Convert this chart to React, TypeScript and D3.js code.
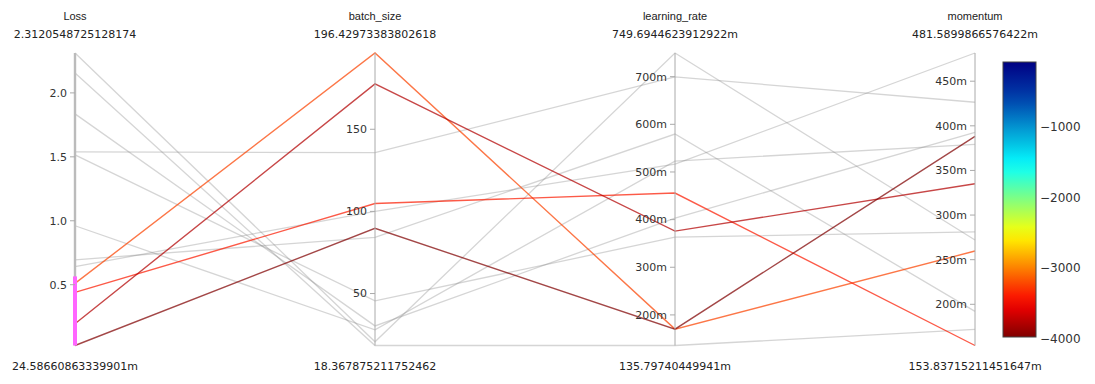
import React from 'react';
import * as d3 from 'd3';

// ---- data ----
const dimensionNames = ['Loss', 'batch_size', 'learning_rate', 'momentum'];
const loss = [2.3120548725128174, 2.156, 1.836, 1.539, 1.516, 0.961, 0.695, 0.641, 0.51, 0.44, 0.195, 0.02458660863339901];
const batchSize = [20.6, 18.367875211752462, 30.3, 135.8, 45.5, 27.9, 84.2, 100.0, 196.42973383802618, 104.8, 177.6, 89.7];
const learningRate = [0.7496944623912922, 0.13579740449941, 0.4032, 0.6994, 0.3632, 0.5229, 0.5796, 0.5166, 0.1702, 0.4557, 0.3758, 0.1702];
const momentum = [0.2721, 0.1718, 0.3926, 0.4264, 0.2811, 0.3791, 0.1921, 0.4815899866576422, 0.2597, 0.15383715211451647, 0.3351, 0.3881];
const colorValue = [-80, -1200, -2000, -1500, -900, -2500, -2800, -1800, -3240, -3390, -3780, -3980];

const lossTicks = [0.5, 1.0, 1.5, 2.0];
const batchTicks = [50, 100, 150];
const lrTicks = [0.2, 0.3, 0.4, 0.5, 0.6, 0.7];
const momentumTicks = [0.2, 0.25, 0.3, 0.35, 0.4, 0.45];
const colorTicks = [-1000, -2000, -3000, -4000];
const maxLabels = ['2.3120548725128174', '196.42973383802618', '749.6944623912922m', '481.5899866576422m'];
const minLabels = ['24.58660863339901m', '18.367875211752462', '135.79740449941m', '153.83715211451647m'];
const lossConstraint = [0.02458660863339901, 0.565];
const jetStops = [0, 0.125, 0.375, 0.625, 0.875, 1];
const jetColors = ['rgb(0,0,131)', 'rgb(0,60,170)', 'rgb(5,255,255)', 'rgb(255,255,0)', 'rgb(250,0,0)', 'rgb(128,0,0)'];

const W = 1095, H = 384;
const axisX = [75, 375, 675, 975];
const yTop = 53, yBot = 345.5;
const cmin = -3980, cmax = -80;

export default function App() {
  const columns = [loss, batchSize, learningRate, momentum];
  const tickSets = [lossTicks, batchTicks, lrTicks, momentumTicks];
  const tickFmt = [d3.format('.1f'), d3.format('d'), d3.format('~s'), d3.format('~s')];
  const scales = columns.map(col => d3.scaleLinear().domain(d3.extent(col) as [number, number]).range([yBot, yTop]));
  const jet = d3.scaleLinear<string>().domain(jetStops).range(jetColors).interpolate(d3.interpolateRgb);
  const colorOf = (v: number) => jet(1 - (v - cmin) / (cmax - cmin));
  const line = d3.line<[number, number]>();
  const n = loss.length;
  const idx = d3.range(n);
  const selected = (i: number) => loss[i] >= lossConstraint[0] && loss[i] <= lossConstraint[1];
  const pathOf = (i: number) => line(columns.map((col, k) => [axisX[k], scales[k](col[i])] as [number, number])) || '';

  const cbX = 1003, cbW = 33, cbTop = 62, cbBot = 337;
  const cbScale = d3.scaleLinear().domain([cmin, cmax]).range([cbBot, cbTop]);
  const gradStops = d3.range(0, 1.0001, 0.05);

  const font = 'DejaVu Sans, Verdana, sans-serif';
  return (
    <svg width={W} height={H} style={{ position: 'absolute', left: 0, top: 0, background: '#fff' }}>
      <defs>
        <linearGradient id="cbgrad" x1="0" y1="1" x2="0" y2="0">
          {gradStops.map(t => (
            <stop key={t} offset={t} stopColor={jet(1 - t)} />
          ))}
        </linearGradient>
      </defs>
      {/* context (unselected) lines */}
      <g fill="none">
        {idx.filter(i => !selected(i)).map(i => (
          <path key={i} d={pathOf(i)} stroke="#7f7f7f" strokeOpacity={0.33} strokeWidth={1.3} />
        ))}
        {idx.filter(i => selected(i)).sort((a, b) => colorValue[b] - colorValue[a]).map(i => (
          <path key={i} d={pathOf(i)} stroke={colorOf(colorValue[i])} strokeOpacity={0.72} strokeWidth={1.4} />
        ))}
      </g>
      {/* axes */}
      {dimensionNames.map((name, k) => {
        const x = axisX[k];
        const s = scales[k];
        return (
          <g key={name}>
            {k === 0 ? (
              <rect x={x - 1.2} y={yTop} width={2.4} height={yBot - yTop} fill="#bbb" />
            ) : (
              <line x1={x} x2={x} y1={yTop} y2={yBot} stroke="#aaa" strokeWidth={1} />
            )}
            {k === 0 && (
              <rect x={x - 2} y={s(lossConstraint[1])} width={4} height={s(lossConstraint[0]) - s(lossConstraint[1])} fill="#ff66ff" />
            )}
            {tickSets[k].map(t => (
              <g key={t} transform={`translate(${x},${s(t)})`}>
                <line x1={-5} x2={0} stroke="#aaa" />
                <text x={-8} dy="0.35em" textAnchor="end" fontSize={11} fontFamily={font} fill="#333">{tickFmt[k](t)}</text>
              </g>
            ))}
            <text x={x} y={20} textAnchor="middle" fontSize={11} fontFamily="Liberation Sans, Arial, sans-serif" fill="#222">{name}</text>
            <text x={x} y={38} textAnchor="middle" fontSize={11} fontFamily={font} fill="#222">{maxLabels[k]}</text>
            <text x={x} y={370} textAnchor="middle" fontSize={11} fontFamily={font} fill="#222">{minLabels[k]}</text>
          </g>
        );
      })}
      {/* colorbar */}
      <rect x={cbX} y={cbTop} width={cbW} height={cbBot - cbTop} fill="url(#cbgrad)" stroke="#444" strokeWidth={1} />
      {colorTicks.map(t => (
        <text key={t} x={cbX + cbW + 4} y={cbScale(t)} dy="0.35em" fontSize={12} fontFamily={font} fill="#333">{d3.format('')(t).replace('-', '\u2212')}</text>
      ))}
    </svg>
  );
}
